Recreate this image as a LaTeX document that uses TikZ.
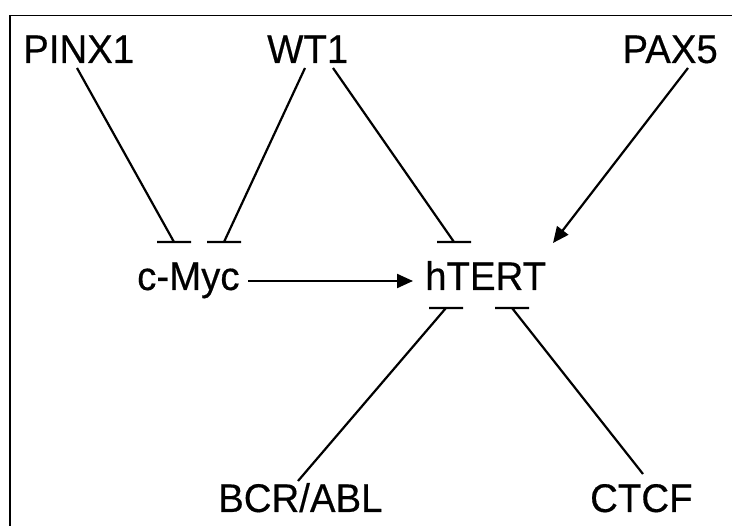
\documentclass[tikz,border=0pt]{standalone}
\usepackage{fontspec}
\setmainfont{Liberation Sans}
\newfontfamily\genefont[FakeBold=0.4]{Liberation Sans}
\usetikzlibrary{arrows.meta}
\begin{document}
\begin{tikzpicture}[x=1pt,y=-1pt,
  gene/.style={inner sep=0pt,font=\genefont\fontsize{40}{40}\selectfont,xscale=0.96},
  % blunt end: line to the target, then a short horizontal bar centred on it
  inhibit/.style={line width=2.2pt,
    to path={-- (\tikztotarget) ++(-17,0) -- ++(34,0)}},
  activate/.style={line width=2.2pt,-{Triangle[length=16pt,width=14pt]}}]
  \useasboundingbox (0,0) rectangle (732,526);
  % open frame: top and left edges only
  \draw[line width=1.5pt] (10,526) -- (10,15.5) -- (732,15.5);

  % gene labels
  \node[gene,anchor=base west] (pinx) at (23,63) {PINX1};
  \node[gene,anchor=base west] (wt)   at (267,63) {WT1};
  \node[gene,anchor=base east] (pax)  at (718,63) {PAX5};
  \node[gene,anchor=base west] (myc)  at (137,290) {c-Myc};
  \node[gene,anchor=base west] (tert) at (425,290) {hTERT};
  \node[gene,anchor=base west] (bcr)  at (218,512) {BCR/ABL};
  \node[gene,anchor=base west] (ctcf) at (590,512) {CTCF};

  % free ends of the connectors
  \coordinate (pinxA) at (77,68);
  \coordinate (wtA)   at (305,68);
  \coordinate (wtB)   at (333,68);
  \coordinate (paxA)  at (688,68);
  \coordinate (bcrA)  at (298,481);
  \coordinate (ctcfA) at (643,474);
  \coordinate (mycL)  at (174,242);
  \coordinate (mycR)  at (224,242);
  \coordinate (tertT) at (454,242);
  \coordinate (tertP) at (553,243);
  \coordinate (tertL) at (446,308);
  \coordinate (tertR) at (512,308);
  \coordinate (mycO)  at (248,281);
  \coordinate (tertI) at (413,281);

  % regulatory links
  \draw[inhibit]  (pinxA) to (mycL);
  \draw[inhibit]  (wtA) to (mycR);
  \draw[inhibit]  (wtB) to (tertT);
  \draw[activate] (paxA) -- (tertP);
  \draw[activate] (mycO) -- (tertI);
  \draw[inhibit]  (bcrA) to (tertL);
  \draw[inhibit]  (ctcfA) to (tertR);
\end{tikzpicture}
\end{document}
